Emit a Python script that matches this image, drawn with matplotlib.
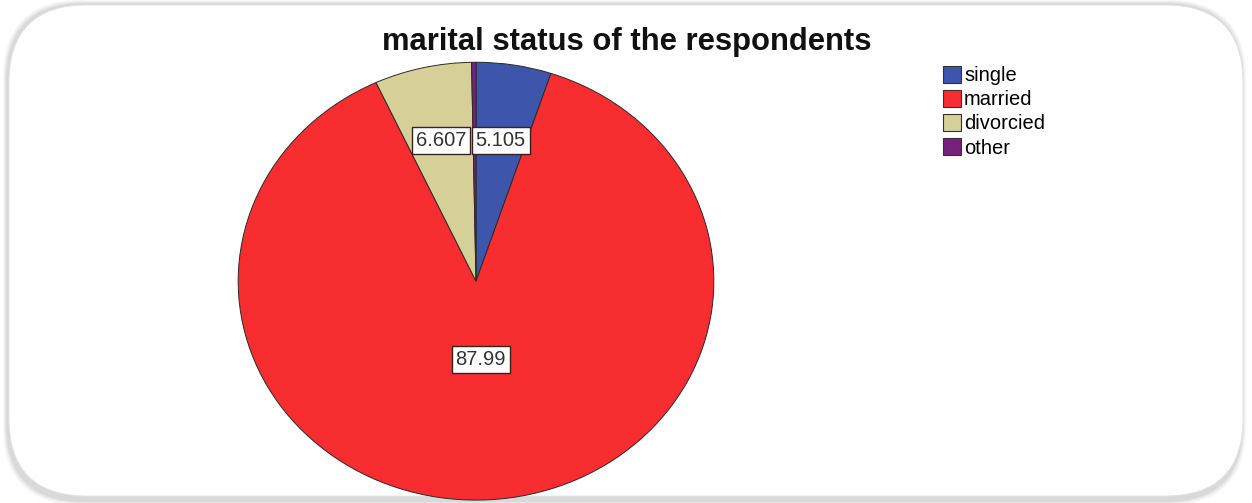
import numpy as np
import matplotlib
matplotlib.use("Agg")
import matplotlib.pyplot as plt
from matplotlib.patches import FancyBboxPatch

categories = ["single", "married", "divorcied", "other"]
percent = [5.105, 87.99, 6.607, 0.298]
shown = ["5.105", "87.99", "6.607", None]
colors = ["#3d55aa", "#f72d30", "#d6d098", "#76217e"]
# how far out (as a fraction of the radius) each value box sits
label_r = [0.65, 0.36, 0.66, 0.6]

plt.rcParams["font.family"] = ["Liberation Sans", "DejaVu Sans"]

fig = plt.figure(figsize=(12.52, 5.03), dpi=100)
fig.patch.set_facecolor("white")

# rounded card with a soft grey shadow
W, H = 1252, 503
bg = fig.add_axes([0, 0, 1, 1])
bg.set_xlim(0, W)
bg.set_ylim(H, 0)
bg.axis("off")
for i, a in enumerate([0.05, 0.06, 0.08, 0.1]):
    grow = 4 - i
    bg.add_patch(FancyBboxPatch((8 - grow + 78 - 1, 4 - grow + 78), 1237 + 2 * grow - 156 - 2,
                                494 + 2 * grow - 156 + 3,
                                boxstyle="round,pad=78", fc="#707070", ec="none", alpha=a))
bg.add_patch(FancyBboxPatch((9 + 78, 5 + 78), 1234 - 156, 491 - 156,
                            boxstyle="round,pad=78", fc="white", ec="#e4e4e4", lw=0.6))

bg.text(627, 42, "marital status of the respondents", ha="center", va="center",
        fontsize=22.3, fontweight="bold", color="#111111")

ax = fig.add_axes([0.1893, 0.0036, 0.3818, 0.8748])
wedges, _ = ax.pie(percent, colors=colors, startangle=90, counterclock=False,
                   wedgeprops=dict(edgecolor="#2a2a2a", linewidth=0.7))
ax.set_aspect("auto")
ax.set_xlim(-1.005, 1.005)
ax.set_ylim(-1.005, 1.005)
ax.axis("off")

for w, txt, r in zip(wedges, shown, label_r):
    if txt is None:
        continue
    mid = np.deg2rad((w.theta1 + w.theta2) / 2)
    ax.text(r * np.cos(mid), r * np.sin(mid), txt, ha="center", va="center",
            fontsize=14.5, color="#333333",
            bbox=dict(boxstyle="square,pad=0.2", fc="white", ec="#3a2020", lw=1.0))

handles = [plt.Rectangle((0, 0), 1, 1, fc=c, ec="#333333", lw=0.8) for c in colors]
fig.legend(handles, categories, loc="upper left", bbox_to_anchor=(0.745, 0.889),
           frameon=False, fontsize=14.5, handlelength=0.9, handleheight=0.9,
           handletextpad=0.15, labelspacing=0.24, borderpad=0)

fig.savefig("out.png", dpi=100)
